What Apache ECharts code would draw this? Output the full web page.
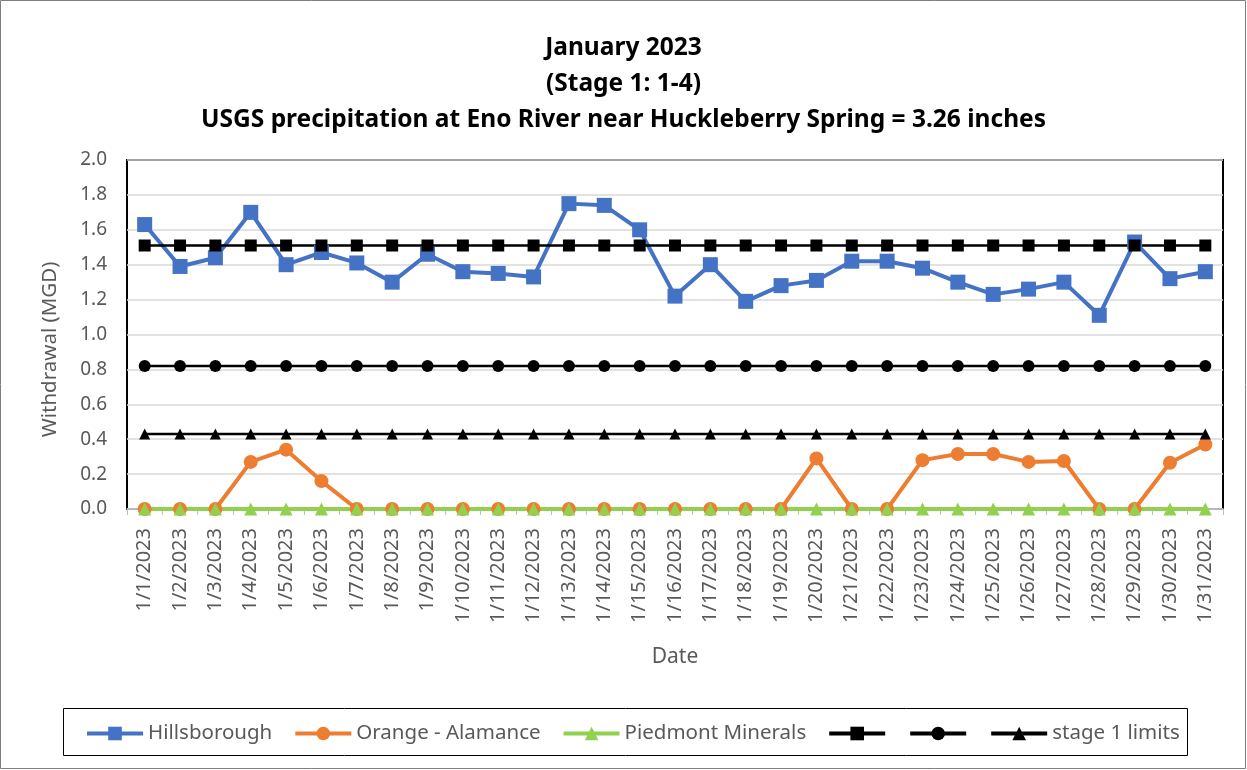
<!DOCTYPE html>
<html>
<head>
<meta charset="utf-8">
<script src="https://cdn.jsdelivr.net/npm/echarts@6/dist/echarts.min.js"></script>
<style>
  html, body { margin: 0; padding: 0; background: #fff; }
  #chart { width: 1247px; height: 770px; }
</style>
</head>
<body>
<div id="chart"></div>
<script>
const dates = ['1/1/2023', '1/2/2023', '1/3/2023', '1/4/2023', '1/5/2023', '1/6/2023', '1/7/2023', '1/8/2023',
  '1/9/2023', '1/10/2023', '1/11/2023', '1/12/2023', '1/13/2023', '1/14/2023', '1/15/2023', '1/16/2023',
  '1/17/2023', '1/18/2023', '1/19/2023', '1/20/2023', '1/21/2023', '1/22/2023', '1/23/2023', '1/24/2023',
  '1/25/2023', '1/26/2023', '1/27/2023', '1/28/2023', '1/29/2023', '1/30/2023', '1/31/2023']

const hillsborough = [1.63, 1.39, 1.44, 1.70, 1.40, 1.47, 1.41, 1.30, 1.46, 1.36, 1.35, 1.33, 1.75, 1.74, 1.60, 1.22,
  1.40, 1.19, 1.28, 1.31, 1.42, 1.42, 1.38, 1.30, 1.23, 1.26, 1.30, 1.11, 1.53, 1.32, 1.36]

const orangeAlamance = [0, 0, 0, 0.27, 0.34, 0.16, 0, 0, 0, 0, 0, 0, 0, 0, 0, 0,
  0, 0, 0, 0.29, 0, 0, 0.28, 0.315, 0.315, 0.27, 0.275, 0, 0, 0.265, 0.37]

const piedmontMinerals = [0, 0, 0, 0, 0, 0, 0, 0, 0, 0, 0, 0, 0, 0, 0, 0,
  0, 0, 0, 0, 0, 0, 0, 0, 0, 0, 0, 0, 0, 0, 0]

const limitHigh = [1.51, 1.51, 1.51, 1.51, 1.51, 1.51, 1.51, 1.51, 1.51, 1.51, 1.51, 1.51, 1.51, 1.51, 1.51, 1.51,
  1.51, 1.51, 1.51, 1.51, 1.51, 1.51, 1.51, 1.51, 1.51, 1.51, 1.51, 1.51, 1.51, 1.51, 1.51]

const limitMid = [0.82, 0.82, 0.82, 0.82, 0.82, 0.82, 0.82, 0.82, 0.82, 0.82, 0.82, 0.82, 0.82, 0.82, 0.82, 0.82,
  0.82, 0.82, 0.82, 0.82, 0.82, 0.82, 0.82, 0.82, 0.82, 0.82, 0.82, 0.82, 0.82, 0.82, 0.82]

const limitLow = [0.43, 0.43, 0.43, 0.43, 0.43, 0.43, 0.43, 0.43, 0.43, 0.43, 0.43, 0.43, 0.43, 0.43, 0.43, 0.43,
  0.43, 0.43, 0.43, 0.43, 0.43, 0.43, 0.43, 0.43, 0.43, 0.43, 0.43, 0.43, 0.43, 0.43, 0.43]

const FONT = '"Noto Sans", "Open Sans", sans-serif'
const GREY_TEXT = '#595959'

const lineSeries = (name, data, color, symbol, size, width) => ({
  name,
  type: 'line',
  data,
  symbol,
  symbolSize: size,
  showAllSymbol: true,
  lineStyle: { color, width },
  itemStyle: { color },
  emphasis: { disabled: true },
  animation: false
})

const chart = echarts.init(document.getElementById('chart'))

chart.setOption({
  backgroundColor: '#fff',
  animation: false,
  title: {
    text: 'January 2023\n(Stage 1: 1-4)\nUSGS precipitation at Eno River near Huckleberry Spring = 3.26 inches',
    left: 'center',
    top: 25,
    textStyle: { fontFamily: FONT, fontSize: 24.5, fontWeight: 'bold', color: '#000', lineHeight: 36 }
  },
  graphic: [
    {
      type: 'rect',
      shape: { x: 0.5, y: 0.5, width: 1245, height: 768 },
      style: { fill: 'none', stroke: '#7f7f7f', lineWidth: 1 },
      silent: true
    },
    {
      type: 'rect',
      shape: { x: 63.5, y: 708.5, width: 1124, height: 47 },
      style: { fill: 'none', stroke: '#000', lineWidth: 1 },
      silent: true
    }
  ],
  legend: {
    top: 723,
    left: 85,
    padding: 0,
    itemWidth: 56,
    itemHeight: 17,
    itemGap: 21,
    lineStyle: { width: 4 },
    textStyle: { fontFamily: FONT, fontSize: 20.5, color: GREY_TEXT },
    formatter: (name) => (name.startsWith('limit') ? '' : name),
    data: ['Hillsborough', 'Orange - Alamance', 'Piedmont Minerals', 'limitHigh', 'limitMid', 'stage 1 limits']
  },
  grid: {
    left: 127,
    right: 24,
    top: 160,
    bottom: 261,
    show: true,
    borderColor: '#000',
    borderWidth: 2
  },
  xAxis: {
    type: 'category',
    data: dates,
    boundaryGap: true,
    name: 'Date',
    nameLocation: 'middle',
    nameGap: 138,
    nameTextStyle: { fontFamily: FONT, fontSize: 21, color: GREY_TEXT },
    axisLine: { lineStyle: { color: '#bfbfbf', width: 1.5 } },
    axisTick: { show: true, length: 6, lineStyle: { color: '#bfbfbf' } },
    axisLabel: { rotate: 90, interval: 0, fontFamily: FONT, fontSize: 20, color: GREY_TEXT, margin: 19 }
  },
  yAxis: {
    type: 'value',
    min: 0,
    max: 2,
    interval: 0.2,
    name: 'Withdrawal (MGD)',
    nameLocation: 'middle',
    nameGap: 66,
    nameTextStyle: { fontFamily: FONT, fontSize: 20.5, color: GREY_TEXT, padding: [0, 30, 0, 0] },
    axisLine: { show: false },
    axisTick: { show: false },
    axisLabel: { fontFamily: FONT, fontSize: 19, color: GREY_TEXT, margin: 20, formatter: (v) => v.toFixed(1) },
    splitLine: { lineStyle: { color: '#d9d9d9', width: 1.5 } }
  },
  series: [
    lineSeries('Hillsborough', hillsborough, '#4472c4', 'rect', 15, 4),
    lineSeries('Orange - Alamance', orangeAlamance, '#ed7d31', 'circle', 14, 4),
    lineSeries('Piedmont Minerals', piedmontMinerals, '#92d050', 'triangle', 13, 4),
    lineSeries('limitHigh', limitHigh, '#000', 'rect', 12, 2.5),
    lineSeries('limitMid', limitMid, '#000', 'circle', 12, 2.5),
    lineSeries('stage 1 limits', limitLow, '#000', 'triangle', 11, 2.5)
  ]
})
</script>
</body>
</html>
